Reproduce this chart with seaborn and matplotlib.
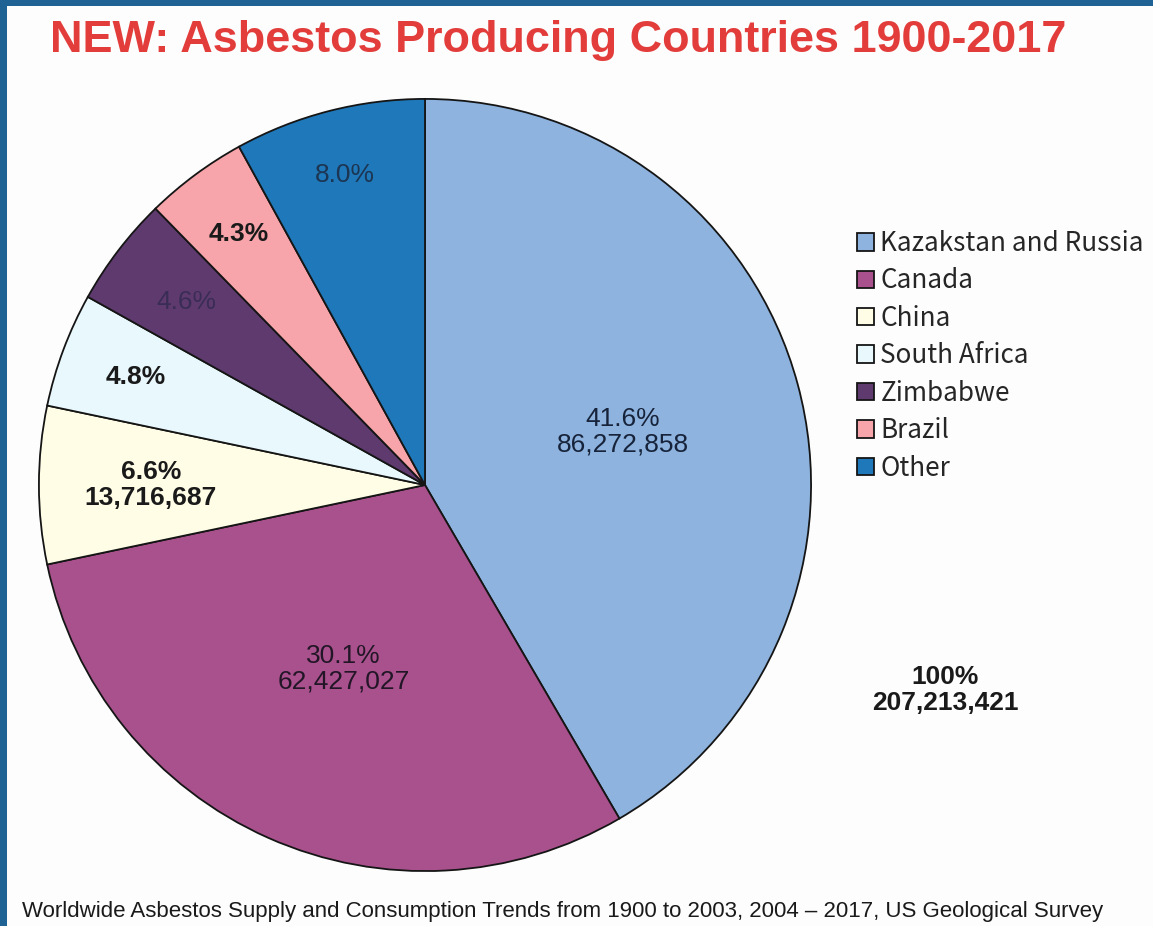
import numpy as np
import matplotlib.pyplot as plt
import seaborn as sns
from matplotlib.patches import Rectangle

# data
countries = ['Kazakstan and Russia', 'Canada', 'China', 'South Africa',
             'Zimbabwe', 'Brazil', 'Other']
shares = [41.6, 30.1, 6.6, 4.8, 4.6, 4.3, 8.0]
tonnes = [86272858, 62427027, 13716687, None, None, None, None]
total_tonnes = 207213421

# style
colors = ['#8db3de', '#a9518d', '#fffde6', '#e9f8fc', '#5f3a6f', '#f7a5aa', '#1f78b9']
label_r = [0.53, 0.52, 0.71, 0.80, 0.78, 0.81, 0.83]
label_weight = ['normal', 'normal', 'bold', 'bold', 'normal', 'bold', 'normal']
label_color = ['#17233a', '#221626', '#1a1a1a', '#1a1a1a', '#3a2d55', '#1a1a1a', '#1c3552']

sns.set_theme(style="white")
plt.rcParams['font.family'] = ['Liberation Sans', 'DejaVu Sans']

W, H = 1153, 926
fig = plt.figure(figsize=(W / 100, H / 100), dpi=100)
fig.patch.set_facecolor('#1f6394')
fig.add_artist(Rectangle((7 / W, 0), 1, 1 - 6 / H, transform=fig.transFigure,
                         facecolor='#fdfdfd', edgecolor='none', zorder=-1))

# pie axes: centre (425, 485) px, radius 388 px
cx, cy, R = 425, 485, 388
ax = fig.add_axes([(cx - R) / W, (H - cy - R) / H, 2 * R / W, 2 * R / H])
wedges, _ = ax.pie(shares, colors=colors, startangle=90, counterclock=False,
                   wedgeprops=dict(edgecolor='#151515', linewidth=1.3))
ax.set_xlim(-1.005, 1.005)
ax.set_ylim(-1.005, 1.005)

for w, s, t, rf, fw, fc in zip(wedges, shares, tonnes, label_r, label_weight, label_color):
    ang = np.deg2rad((w.theta1 + w.theta2) / 2)
    txt = f"{s:.1f}%"
    if t is not None:
        txt += f"\n{t:,}"
    ax.text(rf * np.cos(ang), rf * np.sin(ang), txt, ha='center', va='center',
            fontsize=19, fontweight=fw, color=fc, linespacing=1.1)

# title
fig.text(50 / W, 1 - 52 / H, 'NEW: Asbestos Producing Countries 1900-2017',
         ha='left', va='baseline', fontsize=32.4, fontweight='bold', color='#e23d3b')

# legend
fig.legend(wedges, countries, loc='upper left', bbox_to_anchor=(857 / W, 1 - 230 / H),
           frameon=False, prop={'family': ['Noto Sans CJK JP', 'DejaVu Sans'], 'size': 18.8},
           handlelength=0.65, handleheight=0.65, handletextpad=0.25,
           labelspacing=0.40, borderpad=0, borderaxespad=0)

# total
fig.text(945 / W, 1 - 690 / H, f"100%\n{total_tonnes:,}", ha='center', va='center',
         fontsize=19, fontweight='bold', color='#1a1a1a', linespacing=1.1)

# source
fig.text(22 / W, 1 - 917 / H,
         'Worldwide Asbestos Supply and Consumption Trends from 1900 to 2003, 2004 \u2013 2017, US Geological Survey',
         ha='left', va='baseline', fontsize=16, color='#1a1a1a')

fig.savefig('out.png', dpi=100)
